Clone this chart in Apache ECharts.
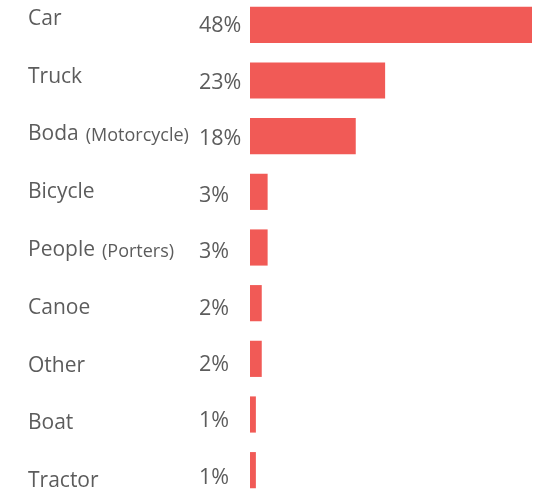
<!DOCTYPE html>
<html><head><meta charset="utf-8">
<script src="https://cdn.jsdelivr.net/npm/echarts@6/dist/echarts.min.js"></script>
<style>html,body{margin:0;padding:0;background:#fff}#c{width:536px;height:495px}</style>
</head><body><div id="c"></div>
<script>
const categories = ['Car','Truck','Boda','Bicycle','People','Canoe','Other','Boat','Tractor'];
const notes = ['','','(Motorcycle)','','(Porters)','','','',''];
const values = [48,23,18,3,3,2,2,1,1];
const pctLabels = values.map(v => v + '%');

const FONT = 'Open Sans';
const TXT = '#5c5c5c';
const chart = echarts.init(document.getElementById('c'));
chart.setOption({
  animation: false,
  grid: [
    {left: 250, right: 4, top: -3, height: 501, outerBoundsMode: 'none', containLabel: false},
    {left: 28, right: 0, top: -13.5, height: 520, outerBoundsMode: 'none', containLabel: false},
    {left: 199, right: 0, top: -2, height: 508, outerBoundsMode: 'none', containLabel: false}
  ],
  xAxis: [
    {gridIndex: 0, type: 'value', min: 0, max: 48, show: false},
    {gridIndex: 1, type: 'value', show: false},
    {gridIndex: 2, type: 'value', show: false}
  ],
  yAxis: [
    {gridIndex: 0, type: 'category', inverse: true, data: categories, show: false},
    {gridIndex: 1, type: 'category', inverse: true,
     data: categories.map((c, i) => notes[i] ? '{a|' + c + '}{b|' + notes[i] + '}' : '{a|' + c + '}'),
     axisLine: {show: false}, axisTick: {show: false},
     axisLabel: {inside: true, margin: 0, align: 'left', verticalAlign: 'middle',
       rich: {a: {fontFamily: FONT, fontSize: 21, color: TXT, lineHeight: 28, verticalAlign: 'bottom'},
              b: {fontFamily: FONT, fontSize: 18, color: TXT, lineHeight: 25, verticalAlign: 'bottom', padding: [0, 0, 0, 7]}}}},
    {gridIndex: 2, type: 'category', inverse: true, data: pctLabels,
     axisLine: {show: false}, axisTick: {show: false},
     axisLabel: {inside: true, margin: 0, align: 'left', verticalAlign: 'middle',
       fontFamily: FONT, fontSize: 21.5, color: TXT}}
  ],
  series: [{
    type: 'bar', xAxisIndex: 0, yAxisIndex: 0, data: values,
    barCategoryGap: '35%', itemStyle: {color: '#F15A56'}
  }]
});
</script></body></html>
